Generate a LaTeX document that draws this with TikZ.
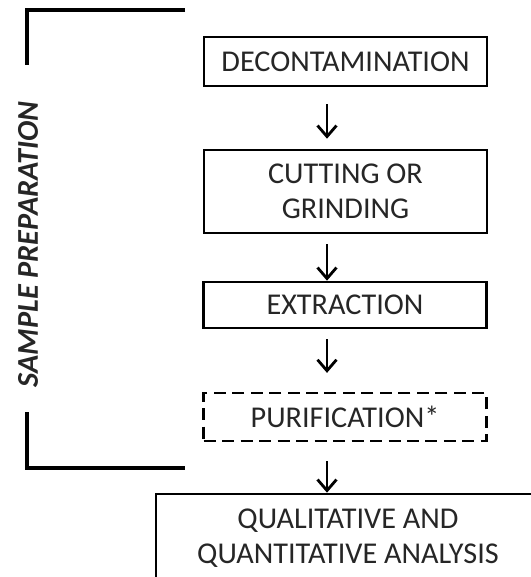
\documentclass[tikz,border=0pt]{standalone}
\usepackage{fontspec}
\setmainfont{Carlito}
\usetikzlibrary{calc}
\usetikzlibrary{arrows.meta}

\tikzset{
    stepbox/.style={draw, line width=1.5pt, minimum width=5.66cm, align=center,
        text=black!85, font=\fontsize{17.2}{20.2}\selectfont, inner sep=0pt},
    optbox/.style={stepbox, line width=1.3pt, dash pattern=on 0.24cm off 0.13cm},
    flow/.style={line width=1.6pt, -{Straight Barb[length=2.2mm, width=3.8mm, line width=1.6pt]}},
    bracket/.style={line width=2.3pt},
}

\begin{document}
\begin{tikzpicture}[x=0.02cm, y=-0.02cm]

    \useasboundingbox (0, 0) rectangle (530, 577);

    \coordinate (ax) at (327, 0);

    \node[stepbox, minimum height=0.98cm] (decon) at (345.5, 61.5) {DECONTAMINATION};
    \node[stepbox, minimum height=1.66cm] (cut) at (345.5, 191.5) {CUTTING OR\\GRINDING};
    \node[stepbox, minimum height=0.92cm] (extr) at (345, 305) {EXTRACTION};
    \node[optbox, minimum height=0.96cm] (purif) at (345, 417) {PURIFICATION*};
    \node[stepbox, minimum width=7.68cm, minimum height=1.76cm] (anal) at (348, 538) {QUALITATIVE AND\\QUANTITATIVE ANALYSIS};

    \draw[flow, shorten <=0.34cm, shorten >=0.2cm] (decon.south -| ax) -- (cut.north -| ax);
    \draw[flow, shorten <=0.2cm] (cut.south -| ax) -- (extr.north -| ax);
    \draw[flow, shorten <=0.2cm, shorten >=0.38cm] (extr.south -| ax) -- (purif.north -| ax);
    \draw[flow, shorten <=0.38cm] (purif.south -| ax) -- (anal.north -| ax);

    % bracket round the preparation steps
    \coordinate (B1) at (185, 10);
    \coordinate (B2) at (27, 10);
    \coordinate (B3) at (27, 65);
    \coordinate (B4) at (27, 412);
    \coordinate (B5) at (27, 468);
    \coordinate (B6) at (185, 468);

    \draw[bracket] (B1) -- (B2) -- (B3);
    \draw[bracket] (B4) -- (B5) -- (B6);
    \node[rotate=90, text=black!85, font=\fontsize{17.2}{20.2}\selectfont\bfseries\itshape] (prep) at (28, 244.5) {SAMPLE PREPARATION};

\end{tikzpicture}
\end{document}
